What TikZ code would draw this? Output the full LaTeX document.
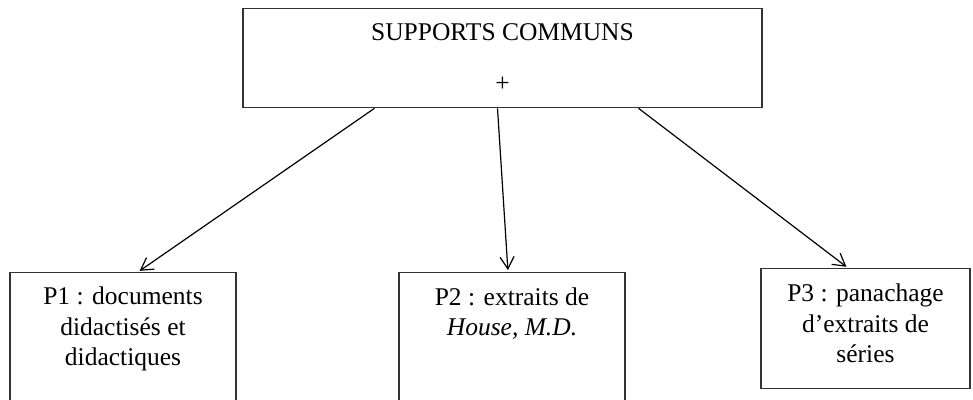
\documentclass[tikz,border=0pt]{standalone}
\usepackage{fontspec}
\setmainfont{Liberation Serif}
\usetikzlibrary{positioning, arrows.meta}

\begin{document}
\begin{tikzpicture}[
  x=1pt, y=1pt,
  box/.style={rectangle, draw=black!80, line width=1.3pt, inner sep=0pt, anchor=north, align=center, font=\fontsize{25.5}{30.5}\selectfont},
  arrow/.style={-{Straight Barb[length=12pt, width=14pt]}, line width=1.2pt, black, shorten >=2pt}
]
\path[use as bounding box, clip] (0,0) rectangle (973,399);

% Top: common supports
\node[box, minimum width=519pt, text height=83pt, text depth=16pt] (communs) at (502.5,391) {SUPPORTS COMMUNS\\[20.5pt]+};

% Bottom row: the three groups
\node[box, minimum width=226pt, text height=93pt, text depth=44pt] (p1) at (123,127) {P1 : documents\\didactisés et\\didactiques};
\node[box, minimum width=226pt, text height=63pt, text depth=74pt] (p2) at (512,127) {P2 : extraits de\\\textit{House, M.D.}};
\node[box, minimum width=209pt, text height=94pt, text depth=26pt] (p3) at (865.5,131) {P3 : panachage\\d’extraits de\\séries};

% Arrows
\draw[arrow] ([xshift=-128pt]communs.south) -- ([xshift=15pt]p1.north);
\draw[arrow] ([xshift=-5pt]communs.south) -- ([xshift=-4pt]p2.north);
\draw[arrow] ([xshift=136pt]communs.south) -- ([xshift=-17.5pt]p3.north);

\end{tikzpicture}
\end{document}
